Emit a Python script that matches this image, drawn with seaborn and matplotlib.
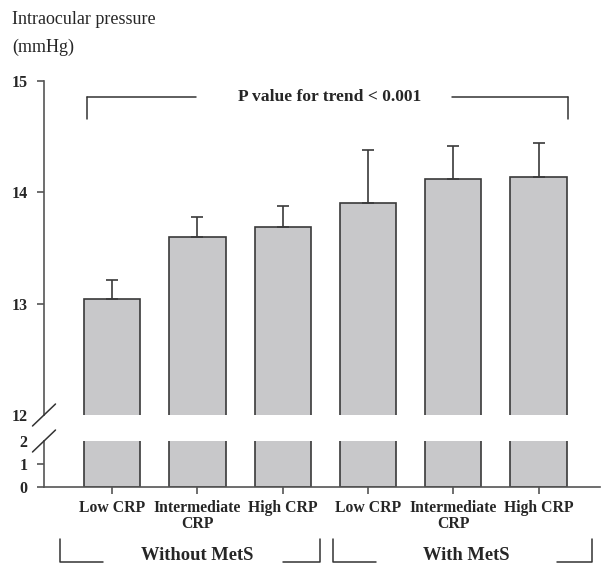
import numpy as np
import pandas as pd
import seaborn as sns
import matplotlib.pyplot as plt
from matplotlib import transforms

# Data
groups = ["Without MetS"] * 3 + ["With MetS"] * 3
crp_levels = ["Low CRP", "Intermediate\nCRP", "High CRP"] * 2
iop_mean = [13.04, 13.60, 13.69, 13.90, 14.12, 14.14]
iop_se = [0.17, 0.18, 0.19, 0.48, 0.30, 0.30]
y_ticks_upper = [12, 13, 14, 15]
y_ticks_lower = [0, 1, 2]
p_text = "P value for trend < 0.001"

df = pd.DataFrame({"group": groups, "crp": crp_levels, "iop": iop_mean, "se": iop_se})
df["key"] = df["group"] + " " + df["crp"]

sns.set_style("white")
plt.rcParams["font.family"] = ["Liberation Serif", "DejaVu Serif"]

W, H = 601, 565
fig = plt.figure(figsize=(W / 100, H / 100), dpi=100)
left, right = 44 / W, 600 / W
ax_up = fig.add_axes([left, 1 - 415 / H, right - left, (415 - 81) / H])
ax_lo = fig.add_axes([left, 1 - 487 / H, right - left, (487 - 441) / H])

bar_kw = dict(x="key", y="iop", color="#c8c8ca", saturation=1, width=0.66,
              edgecolor="#3a3a3a", linewidth=1.2, errorbar=None)
for ax in (ax_up, ax_lo):
    sns.barplot(data=df, ax=ax, **bar_kw)
    ax.set_xlim(-0.80, 5.72)
    ax.set_xlabel("")
    ax.set_ylabel("")
    for s in ("top", "right"):
        ax.spines[s].set_visible(False)
    ax.spines["left"].set_color("#555555")
    ax.spines["left"].set_linewidth(1.2)
    ax.tick_params(axis="y", left=True, length=5, width=1.2, color="#555555", pad=7,
                   labelsize=11.5)

# error bars (upper part only)
xpos = np.arange(len(df))
ax_up.errorbar(xpos, df["iop"], yerr=[np.zeros(len(df)), df["se"]], fmt="none",
               ecolor="#3a3a3a", elinewidth=1.2, capsize=4.3, capthick=1.2)

ax_up.set_ylim(12, 15)
ax_up.set_yticks(y_ticks_upper)
ax_up.set_yticklabels([str(t) for t in y_ticks_upper], fontweight="bold")
ax_up.spines["bottom"].set_visible(False)
ax_up.set_xticks([])
ax_up.yaxis.get_major_ticks()[0].tick1line.set_visible(False)

ax_lo.set_ylim(0, 2)
ax_lo.set_yticks(y_ticks_lower)
ax_lo.set_yticklabels([str(t) for t in y_ticks_lower], fontweight="bold")
ax_lo.yaxis.get_major_ticks()[-1].tick1line.set_visible(False)
ax_lo.spines["bottom"].set_color("#555555")
ax_lo.spines["bottom"].set_linewidth(1.2)
ax_lo.set_xticks(xpos)
ax_lo.set_xticklabels(df["crp"], fontweight="bold", fontsize=11.3, linespacing=1.0)
ax_lo.tick_params(axis="x", bottom=True, length=5, width=1.2, color="#555555", pad=4)

# axis break marks
for ax, yv in ((ax_up, 0), (ax_lo, 1)):
    x0, y0 = fig.transFigure.inverted().transform(ax.transAxes.transform((0, yv)))
    dx, dy = 11.5 / W, 11 / H
    fig.add_artist(plt.Line2D([x0 - dx, x0 + dx], [y0 - dy, y0 + dy], color="#333333", lw=1.1))

# P value bracket
yb, yt = 14.857, 14.66
ax_up.plot([-0.29, 0.985], [yb, yb], color="#333333", lw=1.1)
ax_up.plot([3.99, 5.35], [yb, yb], color="#333333", lw=1.1)
ax_up.plot([-0.29, -0.29], [yb, yt], color="#333333", lw=1.1)
ax_up.plot([5.35, 5.35], [yb, yt], color="#333333", lw=1.1)
ax_up.text(2.55, yb, p_text, ha="center", va="center", fontweight="bold", fontsize=12.6)

# group brackets below the axis
tr = transforms.blended_transform_factory(ax_lo.transData, fig.transFigure)
ytop, ybot = 1 - 539 / H, 1 - 562 / H
for xa, xb, xc, xd, label, xm in ((-0.61, -0.105, 2.0, 2.44, "Without MetS", 1.0),
                                  (2.59, 3.09, 5.22, 5.63, "With MetS", 4.15)):
    fig.add_artist(plt.Line2D([xa, xa, xb], [ytop, ybot, ybot], transform=tr, color="#333333", lw=1.1))
    fig.add_artist(plt.Line2D([xc, xd, xd], [ybot, ybot, ytop], transform=tr, color="#333333", lw=1.1))
    fig.text(xm, 1 - 564 / H, label, transform=tr, ha="center", va="bottom",
             fontweight="bold", fontsize=13.3)

fig.text(12 / W, 1 - 20 / H, "Intraocular pressure", ha="left", va="center", fontsize=13)
fig.text(12 / W, 1 - 47 / H, "(mmHg)", ha="left", va="center", fontsize=13)

fig.savefig("out.png", dpi=100)
